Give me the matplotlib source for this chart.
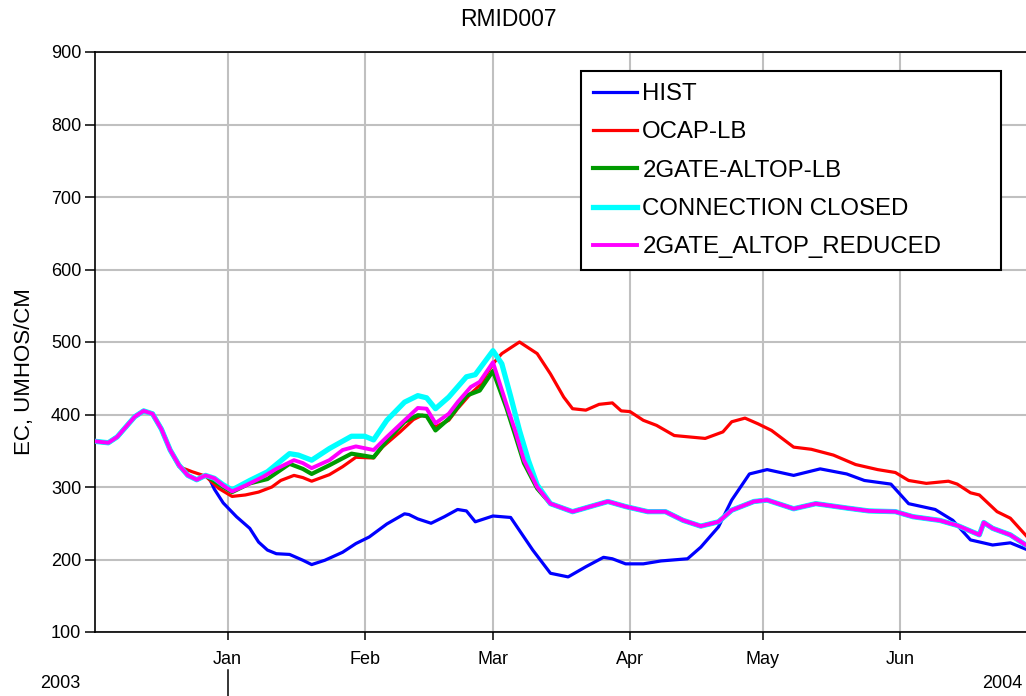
import matplotlib
matplotlib.use("Agg")
import matplotlib.pyplot as plt
import matplotlib.dates as mdates
import matplotlib.transforms as mtransforms
import pandas as pd

plt.rcParams["font.family"] = ["Liberation Sans", "DejaVu Sans"]

# all runs agree up to mid December
START_DATES = ["2003-12-02", "2003-12-05", "2003-12-07", "2003-12-08", "2003-12-11",
               "2003-12-13", "2003-12-15", "2003-12-17", "2003-12-19"]
START_EC = [363, 361, 369, 376, 397, 405, 401, 380, 351]

# late December, shared by every run except OCAP-LB
DEC_DATES = ["2003-12-21", "2003-12-23", "2003-12-25", "2003-12-27"]
DEC_EC = [330, 316, 310, 316]

HIST_DATES = ["2003-12-28", "2003-12-29", "2003-12-31", "2004-01-03", "2004-01-06",
              "2004-01-08", "2004-01-10", "2004-01-12", "2004-01-15", "2004-01-18",
              "2004-01-20", "2004-01-23", "2004-01-27", "2004-01-30", "2004-02-02",
              "2004-02-06", "2004-02-10", "2004-02-11", "2004-02-13", "2004-02-16",
              "2004-02-19", "2004-02-22", "2004-02-24", "2004-02-26", "2004-03-01",
              "2004-03-05", "2004-03-07", "2004-03-10", "2004-03-14", "2004-03-18",
              "2004-03-22", "2004-03-26", "2004-03-28", "2004-03-31", "2004-04-04",
              "2004-04-08", "2004-04-14", "2004-04-17", "2004-04-21", "2004-04-24",
              "2004-04-28", "2004-05-02", "2004-05-08", "2004-05-14", "2004-05-20",
              "2004-05-24", "2004-05-30", "2004-06-03", "2004-06-09", "2004-06-13",
              "2004-06-17", "2004-06-22", "2004-06-26", "2004-06-30"]
HIST_EC = [310, 297, 278, 259, 243, 224, 213, 208, 207, 199,
           193, 199, 210, 222, 231, 249, 263, 262, 256, 250,
           259, 269, 267, 252, 260, 258, 240, 213, 181, 176,
           190, 203, 201, 194, 194, 198, 201, 217, 245, 282,
           318, 324, 316, 325, 318, 309, 304, 277, 269, 254,
           227, 220, 223, 213]

OCAP_DATES = ["2003-12-21", "2003-12-24", "2003-12-27", "2003-12-30", "2004-01-02",
              "2004-01-05", "2004-01-08", "2004-01-11", "2004-01-13", "2004-01-16",
              "2004-01-18", "2004-01-20", "2004-01-24", "2004-01-27", "2004-01-30",
              "2004-02-03", "2004-02-05", "2004-02-09", "2004-02-12", "2004-02-14",
              "2004-02-15", "2004-02-17", "2004-02-20", "2004-02-22", "2004-02-25",
              "2004-02-27", "2004-03-01", "2004-03-03", "2004-03-07", "2004-03-11",
              "2004-03-14", "2004-03-17", "2004-03-19", "2004-03-22", "2004-03-25",
              "2004-03-28", "2004-03-30", "2004-04-01", "2004-04-04", "2004-04-07",
              "2004-04-11", "2004-04-18", "2004-04-22", "2004-04-24", "2004-04-27",
              "2004-04-30", "2004-05-03", "2004-05-08", "2004-05-12", "2004-05-17",
              "2004-05-22", "2004-05-27", "2004-05-31", "2004-06-03", "2004-06-07",
              "2004-06-12", "2004-06-14", "2004-06-17", "2004-06-19", "2004-06-23",
              "2004-06-26", "2004-06-30"]
OCAP_EC = [328, 321, 315, 298, 287, 289, 293, 300, 309, 316,
           313, 308, 317, 328, 341, 340, 355, 376, 393, 399,
           397, 383, 392, 408, 429, 440, 470, 484, 500, 484,
           456, 424, 408, 406, 414, 416, 405, 404, 392, 385,
           371, 367, 376, 390, 395, 387, 378, 355, 352, 344,
           331, 324, 320, 309, 305, 308, 304, 292, 289, 266,
           257, 230]

ALTOP_DATES = ["2003-12-31", "2004-01-02", "2004-01-06", "2004-01-10", "2004-01-15",
               "2004-01-18", "2004-01-20", "2004-01-24", "2004-01-29", "2004-02-03",
               "2004-02-06", "2004-02-10", "2004-02-13", "2004-02-15", "2004-02-17",
               "2004-02-20", "2004-02-24", "2004-02-27", "2004-03-01", "2004-03-04",
               "2004-03-06", "2004-03-08", "2004-03-11"]
ALTOP_EC = [300, 293, 305, 311, 332, 325, 318, 330, 346, 341,
            364, 390, 399, 398, 378, 394, 426, 433, 460, 410,
            372, 333, 298]

CLOSED_DATES = ["2003-12-29", "2003-12-31", "2004-01-02", "2004-01-06", "2004-01-10",
                "2004-01-15", "2004-01-17", "2004-01-20", "2004-01-24", "2004-01-29",
                "2004-02-01", "2004-02-03", "2004-02-06", "2004-02-10", "2004-02-13",
                "2004-02-15", "2004-02-17", "2004-02-20", "2004-02-22", "2004-02-24",
                "2004-02-26", "2004-03-01", "2004-03-03", "2004-03-05", "2004-03-07",
                "2004-03-09", "2004-03-11"]
CLOSED_EC = [312, 303, 296, 309, 321, 346, 344, 337, 353, 370,
             370, 365, 392, 417, 426, 423, 408, 424, 438, 452,
             455, 488, 470, 425, 378, 337, 303]

REDUCED_DATES = ["2003-12-29", "2003-12-31", "2004-01-02", "2004-01-05", "2004-01-09",
                 "2004-01-12", "2004-01-16", "2004-01-18", "2004-01-20", "2004-01-24",
                 "2004-01-27", "2004-01-30", "2004-02-03", "2004-02-06", "2004-02-10",
                 "2004-02-13", "2004-02-15", "2004-02-17", "2004-02-20", "2004-02-22",
                 "2004-02-25", "2004-02-27", "2004-03-01", "2004-03-04", "2004-03-06",
                 "2004-03-08", "2004-03-11"]
REDUCED_EC = [312, 302, 294, 302, 314, 325, 337, 333, 326, 337,
              351, 356, 351, 369, 392, 409, 408, 388, 401, 417,
              438, 445, 472, 415, 378, 337, 300]

# mid March onward the three alternative runs sit on top of each other
ALT_TAIL_DATES = ["2004-03-14", "2004-03-19", "2004-03-23", "2004-03-27", "2004-03-31",
                  "2004-04-05", "2004-04-09", "2004-04-13", "2004-04-17", "2004-04-21",
                  "2004-04-24", "2004-04-29", "2004-05-02", "2004-05-08", "2004-05-13",
                  "2004-05-20", "2004-05-25", "2004-05-31", "2004-06-04", "2004-06-10",
                  "2004-06-14", "2004-06-19", "2004-06-20", "2004-06-22", "2004-06-26",
                  "2004-06-30"]
ALT_TAIL_EC = [277, 266, 273, 280, 273, 266, 266, 254, 246, 252,
               268, 280, 282, 270, 277, 271, 267, 266, 259, 254,
               247, 234, 251, 243, 234, 218]

SERIES = [
    ("HIST", START_DATES + DEC_DATES + HIST_DATES, START_EC + DEC_EC + HIST_EC, "#0000ff", 2.3),
    ("OCAP-LB", START_DATES + OCAP_DATES, START_EC + OCAP_EC, "#ff0000", 2.3),
    ("2GATE-ALTOP-LB", START_DATES + DEC_DATES + ALTOP_DATES + ALT_TAIL_DATES,
     START_EC + DEC_EC + ALTOP_EC + ALT_TAIL_EC, "#009a00", 3.0),
    ("CONNECTION CLOSED", START_DATES + DEC_DATES + CLOSED_DATES + ALT_TAIL_DATES,
     START_EC + DEC_EC + CLOSED_EC + ALT_TAIL_EC, "#00ffff", 3.8),
    ("2GATE_ALTOP_REDUCED", START_DATES + DEC_DATES + REDUCED_DATES + ALT_TAIL_DATES,
     START_EC + DEC_EC + REDUCED_EC + ALT_TAIL_EC, "#ff00ff", 2.8),
]


def main() -> None:
    W, H = 1026, 696
    fig = plt.figure(figsize=(W / 100, H / 100), dpi=100)
    ax = fig.add_axes([95 / W, (H - 632) / H, (1028 - 95) / W, 580 / H])

    for label, dates, ec, color, lw in SERIES:
        ax.plot(pd.to_datetime(dates), ec, color=color, lw=lw, label=label,
                solid_joinstyle="round", zorder=3)

    ax.set_xlim(pd.Timestamp("2003-12-02"), pd.Timestamp("2004-06-30"))
    ax.set_ylim(100, 900)
    ax.set_yticks(range(100, 1000, 100))
    ax.xaxis.set_major_locator(mdates.MonthLocator())
    ax.xaxis.set_major_formatter(mdates.DateFormatter("%b"))

    ax.grid(True, color="#c0c0c0", lw=1.5, zorder=0)
    ax.spines["right"].set_visible(False)
    for side in ("left", "top", "bottom"):
        ax.spines[side].set_linewidth(1.2)
    ax.tick_params(axis="y", direction="out", length=7, width=1.1, labelsize=13, pad=3)
    ax.tick_params(axis="x", direction="out", length=6, width=1.1, labelsize=13, pad=8)

    fig.text(508 / W, 1 - 20 / H, "RMID007", ha="center", va="center", fontsize=16.5)
    fig.text(25 / W, 1 - 372 / H, "EC, UMHOS/CM", ha="center", va="center",
             rotation=90, fontsize=16)

    # year row under the month labels
    fig.text(60 / W, 1 - 684 / H, "2003", ha="center", va="center", fontsize=13)
    fig.text(1022 / W, 1 - 684 / H, "2004", ha="right", va="center", fontsize=13)
    trans = mtransforms.blended_transform_factory(ax.transData, fig.transFigure)
    jan = pd.Timestamp("2004-01-01")
    ax.plot([jan, jan], [1 - 670 / H, 0], color="black", lw=1.1,
            transform=trans, clip_on=False)

    leg = ax.legend(loc="upper left",
                    bbox_to_anchor=(581 / W, 1 - 265 / H, 420 / W, 194 / H),
                    bbox_transform=fig.transFigure, mode="expand", borderaxespad=0,
                    fontsize=17.3, fancybox=False, framealpha=1, edgecolor="black",
                    handlelength=1.85, handletextpad=0.2, borderpad=0.5,
                    labelspacing=0.68)
    leg.get_frame().set_linewidth(1.5)
    leg.set_zorder(5)

    plt.savefig("out.png", dpi=100)


if __name__ == "__main__":
    main()
